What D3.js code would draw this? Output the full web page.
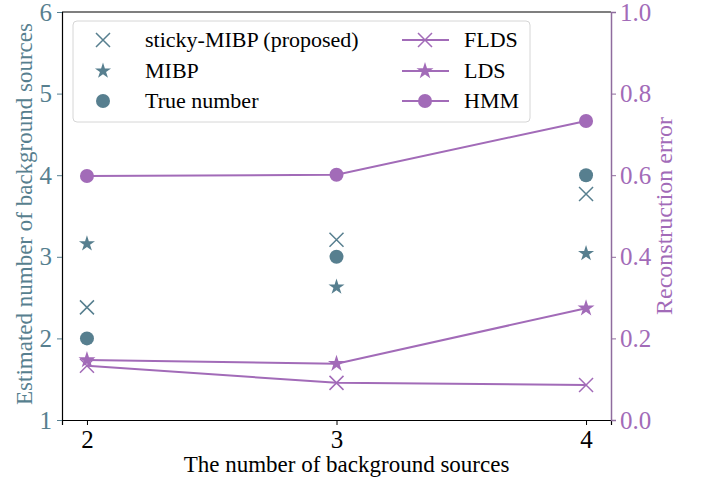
<!DOCTYPE html>
<html>
<head>
<meta charset="utf-8">
<script src="https://cdn.jsdelivr.net/npm/d3@7"></script>
<style>
  body { margin: 0; background: #fff; }
  text { font-family: "Liberation Serif", "DejaVu Serif", serif; }
</style>
</head>
<body>
<svg id="chart" width="702" height="483"></svg>
<script>
// values
const sources = [2, 3, 4];
const stickyMIBP = [2.38, 3.21, 3.77];
const mibp = [3.16, 2.63, 3.04];
const trueNumber = [2, 3, 4];
const flds = [0.133, 0.091, 0.086];
const lds = [0.147, 0.138, 0.274];
const hmm = [0.598, 0.601, 0.733];
const leftTicks = [1, 2, 3, 4, 5, 6];
const rightTicks = [0, 0.2, 0.4, 0.6, 0.8, 1.0];

const blue = "#577f8f";
const purple = "#a26bb8";
const purpleAxis = "#8f6c9e";

function getConfig() {
    const svg = d3.select("#chart");
    const left = 62, right = 611, top = 12, bottom = 420;
    return {svg, left, right, top, bottom};
}

function drawChart() {
    const {svg, left, right, top, bottom} = getConfig();
    const x = d3.scaleLinear().domain([1.9, 4.1]).range([left, right]);
    const yL = d3.scaleLinear().domain([1, 6]).range([bottom, top]);
    const yR = d3.scaleLinear().domain([0, 1]).range([bottom, top]);

    // frame
    svg.append("line").attr("x1", left).attr("x2", right).attr("y1", top).attr("y2", top)
        .attr("stroke", "#000").attr("stroke-width", 1.2);

    const xAxis = svg.append("g").attr("transform", `translate(0,${bottom})`)
        .call(d3.axisBottom(x).tickValues(sources).tickFormat(d3.format("d")).tickSize(5).tickPadding(5));
    xAxis.select(".domain").attr("stroke", "#000").attr("stroke-width", 1.2);
    xAxis.selectAll("text").attr("font-size", 25).attr("fill", "#000")
        .attr("font-family", "Liberation Serif");

    const lAxis = svg.append("g").attr("transform", `translate(${left},0)`)
        .call(d3.axisLeft(yL).tickValues(leftTicks).tickFormat(d3.format("d")).tickSize(5).tickPadding(5));
    lAxis.select(".domain").attr("stroke", "#000").attr("stroke-width", 1.2);
    lAxis.selectAll(".tick line").attr("stroke", blue);
    lAxis.selectAll("text").attr("font-size", 25).attr("fill", blue)
        .attr("font-family", "Liberation Serif");

    const rAxis = svg.append("g").attr("transform", `translate(${right},0)`)
        .call(d3.axisRight(yR).tickValues(rightTicks).tickFormat(d3.format(".1f")).tickSize(5).tickPadding(4));
    rAxis.select(".domain").attr("stroke", purpleAxis).attr("stroke-width", 1.5);
    rAxis.selectAll(".tick line").attr("stroke", purpleAxis);
    rAxis.selectAll("text").attr("font-size", 25).attr("fill", purple)
        .attr("font-family", "Liberation Serif");

    // axis titles
    svg.append("text").attr("x", (left + right) / 2 + 10).attr("y", 472)
        .attr("text-anchor", "middle").attr("font-size", 23).attr("fill", "#000")
        .text("The number of background sources");
    svg.append("text").attr("transform", `translate(32,${(top + bottom) / 2 - 2}) rotate(-90)`)
        .attr("text-anchor", "middle").attr("font-size", 23).attr("fill", blue)
        .text("Estimated number of background sources");
    svg.append("text").attr("transform", `translate(672,${(top + bottom) / 2}) rotate(-90)`)
        .attr("text-anchor", "middle").attr("font-size", 24).attr("fill", purple)
        .text("Reconstruction error");

    const star = d3.symbol().type(d3.symbolStar).size(90);
    const starSmall = d3.symbol().type(d3.symbolStar).size(80);

    // lines on right axis
    const lineGen = d3.line().x((d, i) => x(sources[i])).y(d => yR(d));
    [flds, lds, hmm].forEach(series => {
        svg.append("path").attr("d", lineGen(series))
            .attr("fill", "none").attr("stroke", purple).attr("stroke-width", 2);
    });
    svg.selectAll(".fldsMark").data(flds).enter().append("path")
        .attr("d", (d, i) => crossPath(x(sources[i]), yR(d), 7))
        .attr("stroke", purple).attr("stroke-width", 1.5).attr("fill", "none");
    svg.selectAll(".ldsMark").data(lds).enter().append("path")
        .attr("transform", (d, i) => `translate(${x(sources[i])},${yR(d)})`)
        .attr("d", star).attr("fill", purple);
    svg.selectAll(".hmmMark").data(hmm).enter().append("circle")
        .attr("cx", (d, i) => x(sources[i])).attr("cy", d => yR(d)).attr("r", 7)
        .attr("fill", purple);

    // scatter on left axis
    svg.selectAll(".stickyMark").data(stickyMIBP).enter().append("path")
        .attr("d", (d, i) => crossPath(x(sources[i]), yL(d), 7))
        .attr("stroke", blue).attr("stroke-width", 1.5).attr("fill", "none");
    svg.selectAll(".mibpMark").data(mibp).enter().append("path")
        .attr("transform", (d, i) => `translate(${x(sources[i])},${yL(d)})`)
        .attr("d", starSmall).attr("fill", blue);
    svg.selectAll(".trueMark").data(trueNumber).enter().append("circle")
        .attr("cx", (d, i) => x(sources[i])).attr("cy", d => yL(d)).attr("r", 7)
        .attr("fill", blue);

    drawLegend(svg, star, starSmall);
}

function crossPath(cx, cy, r) {
    return `M${cx - r},${cy - r}L${cx + r},${cy + r}M${cx - r},${cy + r}L${cx + r},${cy - r}`;
}

function drawLegend(svg, star, starSmall) {
    svg.append("rect").attr("x", 73).attr("y", 21).attr("width", 457).attr("height", 101)
        .attr("rx", 4).attr("fill", "#fff").attr("fill-opacity", 0.85)
        .attr("stroke", "#d6d6d6").attr("stroke-width", 1);
    const rows = [40, 71, 101];
    const leftNames = ["sticky-MIBP (proposed)", "MIBP", "True number"];
    const rightNames = ["FLDS", "LDS", "HMM"];

    const mx = 103;
    svg.append("path").attr("d", crossPath(mx, rows[0], 7))
        .attr("stroke", blue).attr("stroke-width", 1.5).attr("fill", "none");
    svg.append("path").attr("transform", `translate(${mx},${rows[1]})`).attr("d", starSmall).attr("fill", blue);
    svg.append("circle").attr("cx", mx).attr("cy", rows[2]).attr("r", 7).attr("fill", blue);
    leftNames.forEach((n, i) => {
        svg.append("text").attr("x", 145).attr("y", rows[i] + 7).attr("font-size", 22)
            .attr("fill", "#000").text(n);
    });

    const lx1 = 402, lx2 = 449, lm = 425;
    rows.forEach(r => {
        svg.append("line").attr("x1", lx1).attr("x2", lx2).attr("y1", r).attr("y2", r)
            .attr("stroke", purple).attr("stroke-width", 2);
    });
    svg.append("path").attr("d", crossPath(lm, rows[0], 7))
        .attr("stroke", purple).attr("stroke-width", 1.5).attr("fill", "none");
    svg.append("path").attr("transform", `translate(${lm},${rows[1]})`).attr("d", star).attr("fill", purple);
    svg.append("circle").attr("cx", lm).attr("cy", rows[2]).attr("r", 7).attr("fill", purple);
    rightNames.forEach((n, i) => {
        svg.append("text").attr("x", 464).attr("y", rows[i] + 7).attr("font-size", 22)
            .attr("fill", "#000").text(n);
    });
}

drawChart();
</script>
</body>
</html>
